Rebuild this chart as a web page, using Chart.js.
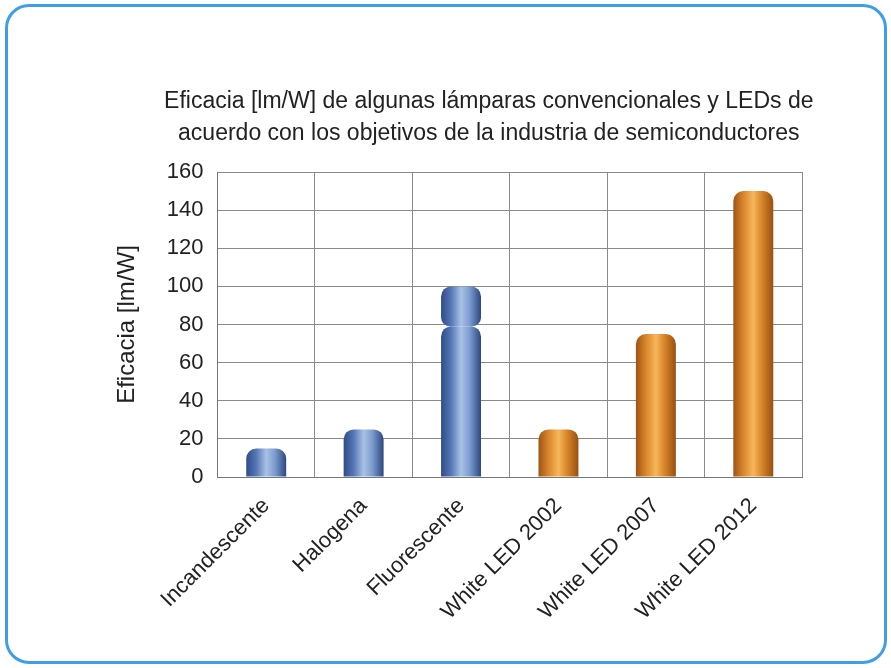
<!DOCTYPE html>
<html>
<head>
<meta charset="utf-8">
<script src="https://cdn.jsdelivr.net/npm/chart.js@4"></script>
<style>
	html, body { margin: 0; padding: 0; background: #fff; }
	#wrap { position: relative; width: 891px; height: 668px; }
	#frame {
		position: absolute; left: 5px; top: 4px; width: 876px; height: 654px;
		border: 3px solid #3f9ee6; border-radius: 24px; box-sizing: content-box;
	}
	canvas { position: absolute; left: 0; top: 0; }
</style>
</head>
<body>
<div id="wrap">
	<div id="frame"></div>
	<canvas id="chart" width="891" height="668"></canvas>
</div>
<script>
var titleLines = [
	"Eficacia [lm/W] de algunas lámparas convencionales y LEDs de",
	"acuerdo con los objetivos de la industria de semiconductores"
];
var yTitle = "Eficacia [lm/W]";
var lamps = ["Incandescente", "Halogena", "Fluorescente", "White LED 2002", "White LED 2007", "White LED 2012"];
// lower part of every bar
var efficacyBase = [15, 25, 79, 25, 75, 150];
// upper range of the fluorescent lamp (79 -> 100)
var efficacyTop = [null, null, 21, null, null, null];
var lampKind = ["blue", "blue", "blue", "orange", "orange", "orange"];

var BAR_PCT = 0.41;
var FONT = "'Liberation Sans', Arial, sans-serif";

var palettes = {
	blue: ["#2f4c88", "#5577b5", "#a9c1e5", "#7b9bcf", "#2c477f"],
	orange: ["#9e5412", "#d9862c", "#f7b65a", "#d7842a", "#97500f"]
};

function barFill(ctx) {
	var chart = ctx.chart;
	var xs = chart.scales.x;
	var pal = palettes[lampKind[ctx.dataIndex]] || palettes.blue;
	if (!xs || !chart.chartArea) {
		return pal[1];
	}
	var cx = xs.getPixelForTick(ctx.dataIndex);
	var w = xs.width / lamps.length * BAR_PCT;
	var g = chart.ctx.createLinearGradient(cx - w / 2, 0, cx + w / 2, 0);
	g.addColorStop(0, pal[0]);
	g.addColorStop(0.25, pal[1]);
	g.addColorStop(0.5, pal[2]);
	g.addColorStop(0.72, pal[3]);
	g.addColorStop(1, pal[4]);
	return g;
}

// two line title drawn a bit left of the plot centre, like the original
var titlePlugin = {
	id: "twoLineTitle",
	afterDraw: function(chart) {
		var c = chart.ctx;
		var area = chart.chartArea;
		var cx = (area.left + area.right) / 2 - 21;
		c.save();
		c.fillStyle = "#222";
		c.font = "23px " + FONT;
		c.textAlign = "center";
		c.textBaseline = "alphabetic";
		titleLines.forEach(function(line, i) {
			c.fillText(line, cx, 108 + i * 32);
		});
		c.restore();
	}
};

var ctx = document.getElementById("chart").getContext("2d");
new Chart(ctx, {
	type: "bar",
	data: {
		labels: lamps,
		datasets: [{
			data: efficacyBase,
			backgroundColor: barFill,
			borderWidth: 0,
			borderRadius: { topLeft: 10, topRight: 10, bottomLeft: 0, bottomRight: 0 },
			borderSkipped: "start",
			barPercentage: BAR_PCT,
			categoryPercentage: 1
		}, {
			data: efficacyTop,
			backgroundColor: barFill,
			borderWidth: 0,
			borderRadius: { topLeft: 10, topRight: 10, bottomLeft: 9, bottomRight: 9 },
			borderSkipped: false,
			barPercentage: BAR_PCT,
			categoryPercentage: 1
		}]
	},
	options: {
		responsive: false,
		animation: false,
		layout: { padding: { top: 172, left: 109, right: 89, bottom: 27 } },
		plugins: {
			legend: { display: false },
			title: { display: false },
			tooltip: { enabled: false }
		},
		scales: {
			x: {
				stacked: true,
				grid: { color: "#8a8a8a", lineWidth: 1, drawTicks: false, offset: true },
				border: { color: "#777", width: 1 },
				ticks: {
					color: "#222",
					font: { family: FONT, size: 22 },
					maxRotation: 45,
					minRotation: 45,
					padding: 16
				}
			},
			y: {
				stacked: true,
				min: 0,
				max: 160,
				grid: { color: "#8a8a8a", lineWidth: 1, drawTicks: false },
				border: { color: "#777", width: 1 },
				ticks: {
					stepSize: 20,
					color: "#222",
					font: { family: FONT, size: 22 },
					padding: 14
				},
				title: {
					display: true,
					text: yTitle,
					color: "#222",
					font: { family: FONT, size: 24 },
					padding: { top: 4, bottom: 11 }
				}
			}
		}
	},
	plugins: [titlePlugin]
});
</script>
</body>
</html>
